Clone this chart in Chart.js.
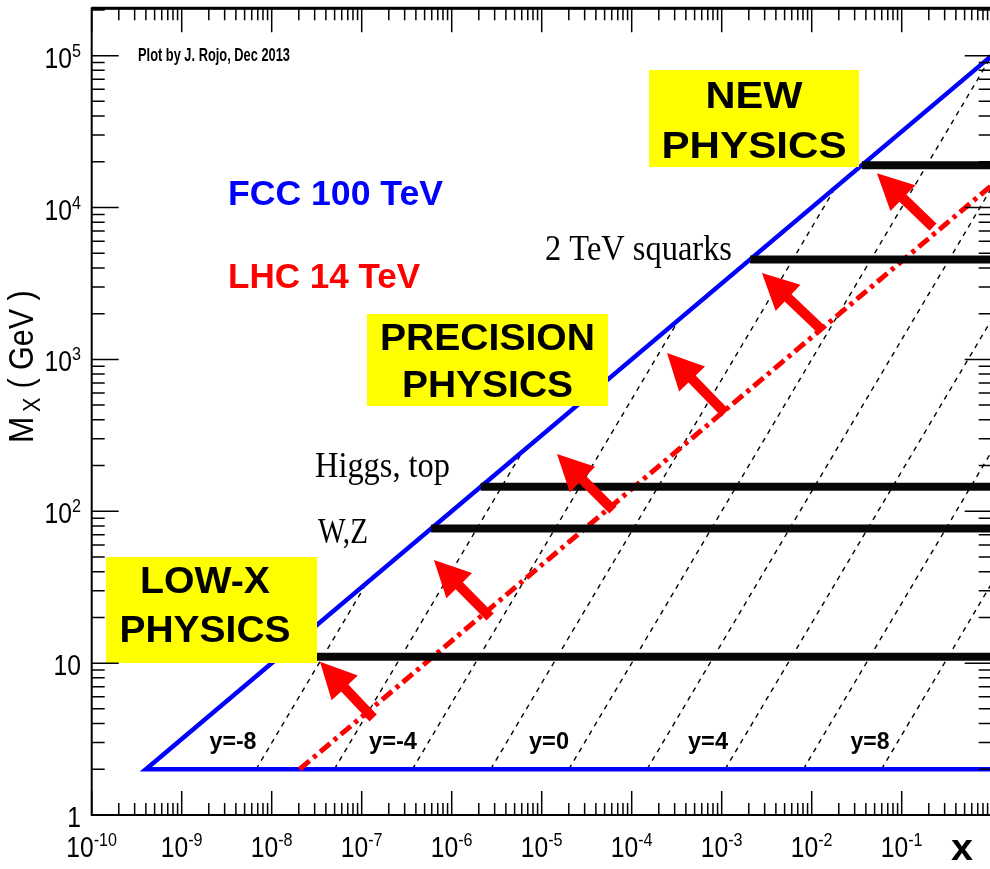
<!DOCTYPE html>
<html lang="en">
<head>
    <meta charset="UTF-8">
    <title>Kinematic coverage: FCC 100 TeV vs LHC 14 TeV</title>
    <script src="https://cdn.jsdelivr.net/npm/chart.js"></script>
    <style>
        html, body { margin: 0; padding: 0; overflow: hidden; background: #fff; }
        #kinChart { display: block; }
    </style>
</head>
<body>
    <canvas id="kinChart" width="1000" height="869"></canvas>
<script>
    // axis ticks
    const xTickExp = ['-10', '-9', '-8', '-7', '-6', '-5', '-4', '-3', '-2', '-1'];
    const yTickBase = ['1', '10', '10', '10', '10', '10'];
    const yTickExp = ['', '', '2', '3', '4', '5'];

    // kinematic limits (x, M_X in GeV)
    const fccX = [1, 4e-10, 1];
    const fccM = [2, 2, 100000];
    const lhcX = [2.04e-8, 1];
    const lhcM = [2, 14000];

    // rapidity lines, all starting at M_X = 2 GeV
    const rapidity = [-8, -6, -4, -2, 0, 2, 4, 6, 8];
    const rapStartX = [6.7e-9, 4.96e-8, 3.66e-7, 2.71e-6, 2.0e-5, 1.48e-4, 1.09e-3, 8.07e-3, 5.96e-2];
    const rapStartM = 2;
    const rapEndX = [1.13e-7, 6.14e-6, 3.35e-4, 1.83e-2, 1, 1, 1, 1, 1];
    const rapEndM = [33.5, 248, 1830, 13500, 100000, 13500, 1830, 248, 33.5];

    // mass bands (new physics, squarks, higgs/top, W/Z, low mass)
    const bandM = [19000, 4550, 145, 77, 11];
    const bandStartX = [0.0361, 2.07e-3, 2.1e-6, 5.9e-7, 1.21e-8];

    // red arrows LHC -> FCC
    const arrowTailX = [1.34e-7, 2.67e-6, 6.2e-5, 1.09e-3, 1.3e-2, 0.223];
    const arrowTailM = [4.35, 20.1, 102, 443, 1560, 7430];
    const arrowHeadX = [3.44e-8, 6.35e-7, 1.48e-5, 2.47e-4, 2.8e-3, 0.0531];
    const arrowHeadM = [10.2, 47.7, 238, 1100, 3700, 16830];

    const pts = (xs, ms) => xs.map((v, i) => ({x: v, y: ms[i]}));

    const datasets = [];
    rapidity.forEach((r, i) => {
        datasets.push({
            label: 'y=' + r,
            data: [{x: rapStartX[i], y: rapStartM}, {x: rapEndX[i], y: rapEndM[i]}],
            borderColor: '#000', borderWidth: 1.4, borderDash: [5, 5], order: 5
        });
    });
    datasets.push({ label: 'FCC 100 TeV', data: pts(fccX, fccM), borderColor: '#0000ff', borderWidth: 4.5, order: 4 });
    datasets.push({ label: 'LHC 14 TeV', data: pts(lhcX, lhcM), borderColor: '#ff0000', borderWidth: 5, borderDash: [13, 5, 4, 5], order: 3 });
    bandM.forEach((m, i) => {
        datasets.push({
            label: 'band ' + m,
            data: [{x: bandStartX[i], y: m}, {x: 1, y: m}],
            borderColor: '#070707', borderWidth: 8, order: 2
        });
    });

    const SANS = '"Liberation Sans", Arial, sans-serif';
    const SERIF = '"Liberation Serif", "Times New Roman", serif';

    // draw text squeezed/stretched to a given width
    function fitText(ctx, str, left, base, font, width, color) {
        ctx.save();
        ctx.font = font;
        ctx.fillStyle = color || '#000';
        ctx.textAlign = 'left';
        ctx.textBaseline = 'alphabetic';
        const w = ctx.measureText(str).width;
        const s = width ? width / w : 1;
        ctx.translate(left, base);
        ctx.scale(s, 1);
        ctx.fillText(str, 0, 0);
        ctx.restore();
    }
    function centerText(ctx, str, cx, base, font, width, color) {
        fitText(ctx, str, cx - width / 2, base, font, width, color);
    }

    function drawArrow(ctx, x0, y0, x1, y1) {
        const len = Math.hypot(x1 - x0, y1 - y0);
        const ux = (x1 - x0) / len, uy = (y1 - y0) / len;
        const nx = -uy, ny = ux;
        const headLen = 36, headW = 18, shaftW = 5;
        const bx = x1 - ux * headLen, by = y1 - uy * headLen;
        ctx.beginPath();
        ctx.moveTo(x0 + nx * shaftW, y0 + ny * shaftW);
        ctx.lineTo(bx + nx * shaftW, by + ny * shaftW);
        ctx.lineTo(bx + nx * headW, by + ny * headW);
        ctx.lineTo(x1, y1);
        ctx.lineTo(bx - nx * headW, by - ny * headW);
        ctx.lineTo(bx - nx * shaftW, by - ny * shaftW);
        ctx.lineTo(x0 - nx * shaftW, y0 - ny * shaftW);
        ctx.closePath();
        ctx.fill();
    }

    const TICK_SCALE = 0.85;
    function tickLabel(ctx, base, exp, anchorX, baseY, align) {
        ctx.save();
        ctx.fillStyle = '#000';
        ctx.textBaseline = 'alphabetic';
        ctx.textAlign = 'left';
        ctx.font = '29px ' + SANS;
        const wb = ctx.measureText(base).width * TICK_SCALE;
        ctx.font = '19px ' + SANS;
        const we = exp ? ctx.measureText(exp).width * TICK_SCALE : 0;
        const total = wb + we;
        const left = align === 'center' ? anchorX - total / 2 : anchorX - total;
        ctx.font = '29px ' + SANS;
        ctx.setTransform(TICK_SCALE, 0, 0, 1, left, baseY);
        ctx.fillText(base, 0, 0);
        if (exp) {
            ctx.font = '19px ' + SANS;
            ctx.setTransform(TICK_SCALE, 0, 0, 1, left + wb, baseY - 11);
            ctx.fillText(exp, 0, 0);
        }
        ctx.restore();
    }

    const overlay = {
        id: 'overlay',
        afterDatasetsDraw(chart) {
            const ctx = chart.ctx;
            const xs = chart.scales.x, ys = chart.scales.y;

            ctx.save();
            ctx.fillStyle = '#ff0000';
            arrowTailX.forEach((tx, i) => {
                drawArrow(ctx,
                    xs.getPixelForValue(tx), ys.getPixelForValue(arrowTailM[i]),
                    xs.getPixelForValue(arrowHeadX[i]), ys.getPixelForValue(arrowHeadM[i]));
            });
            ctx.restore();

            // yellow boxes
            ctx.save();
            ctx.fillStyle = '#ffff00';
            ctx.fillRect(649, 70, 210, 97);
            ctx.fillRect(367, 314, 241, 92);
            ctx.fillRect(106, 557, 211, 106);
            ctx.restore();
            const bold37 = 'bold 37px ' + SANS;
            centerText(ctx, 'NEW', 754, 108, bold37, 97);
            centerText(ctx, 'PHYSICS', 754, 158, bold37, 185);
            centerText(ctx, 'PRECISION', 487.5, 350, bold37, 215);
            centerText(ctx, 'PHYSICS', 487.5, 397, bold37, 171);
            centerText(ctx, 'LOW-X', 205, 593, bold37, 130);
            centerText(ctx, 'PHYSICS', 205, 642, bold37, 171);

            fitText(ctx, 'Plot by J. Rojo, Dec 2013', 138, 61, 'bold 18px ' + SANS, 152);
            fitText(ctx, 'FCC 100 TeV', 228, 205, 'bold 35px ' + SANS, 215, '#0000ff');
            fitText(ctx, 'LHC 14 TeV', 228, 288, 'bold 35px ' + SANS, 192, '#ff0000');
            fitText(ctx, '2 TeV squarks', 545, 260, '36px ' + SERIF, 187);
            fitText(ctx, 'Higgs, top', 315, 477, '36px ' + SERIF, 135);
            fitText(ctx, 'W,Z', 318, 543, '36px ' + SERIF, 50);

            const rapLabelX = [233, 393, 549, 708, 870];
            const rapLabelW = [47, 48, 40, 40, 39];
            ['y=-8', 'y=-4', 'y=0', 'y=4', 'y=8'].forEach((t, i) => {
                centerText(ctx, t, rapLabelX[i], 749, 'bold 24px ' + SANS, rapLabelW[i]);
            });
        },
        afterDraw(chart) {
            const ctx = chart.ctx;
            const xs = chart.scales.x, ys = chart.scales.y;
            const a = chart.chartArea;
            ctx.save();
            ctx.strokeStyle = '#000';

            // ticks
            ctx.lineWidth = 1.5;
            ctx.beginPath();
            for (let e = -10; e <= 0; e++) {
                for (let m = 1; m <= 9; m++) {
                    if (e === 0 && m > 1) break;
                    const px = xs.getPixelForValue(m * Math.pow(10, e));
                    const len = m === 1 ? 24 : 12;
                    ctx.moveTo(px, a.bottom); ctx.lineTo(px, a.bottom - len);
                    ctx.moveTo(px, a.top); ctx.lineTo(px, a.top + len);
                }
            }
            for (let e = 0; e <= 5; e++) {
                for (let m = 1; m <= 9; m++) {
                    const v = m * Math.pow(10, e);
                    if (v > ys.max) break;
                    const py = ys.getPixelForValue(v);
                    const len = m === 1 ? 27 : 13;
                    ctx.moveTo(a.left, py); ctx.lineTo(a.left + len, py);
                    ctx.moveTo(a.right, py); ctx.lineTo(a.right - len, py);
                }
            }
            ctx.stroke();

            // frame
            ctx.lineWidth = 2;
            ctx.strokeRect(a.left, a.top, a.right - a.left, a.bottom - a.top);
            ctx.lineWidth = 3;
            ctx.beginPath();
            ctx.moveTo(a.left, a.top); ctx.lineTo(a.right, a.top);
            ctx.stroke();
            ctx.restore();

            // tick labels
            xTickExp.forEach((ex, i) => {
                tickLabel(ctx, '10', ex, xs.getPixelForValue(Math.pow(10, -10 + i)), 857, 'center');
            });
            yTickBase.forEach((b, i) => {
                const py = ys.getPixelForValue(Math.pow(10, i));
                tickLabel(ctx, b, yTickExp[i], 81, py + 12, 'right');
            });

            // axis titles
            fitText(ctx, 'x', 951, 860, 'bold 36px ' + SANS, 22);

            ctx.save();
            ctx.translate(33, 443);
            ctx.rotate(-Math.PI / 2);
            ctx.fillStyle = '#000';
            ctx.textBaseline = 'alphabetic';
            ctx.font = '35px ' + SANS;
            ctx.save(); ctx.scale(0.9, 1); ctx.fillText('M', 0, 0); ctx.restore();
            ctx.font = '24px ' + SANS;
            ctx.save(); ctx.translate(31, 7); ctx.scale(0.9, 1); ctx.fillText('X', 0, 0); ctx.restore();
            ctx.font = '35px ' + SANS;
            ctx.save(); ctx.translate(46, 0); ctx.scale(0.87, 1); ctx.fillText(' ( GeV )', 0, 0); ctx.restore();
            ctx.restore();
        }
    };

    const config = {
        type: 'line',
        data: { datasets: datasets },
        options: {
            responsive: false,
            animation: false,
            devicePixelRatio: 1,
            layout: { padding: { left: 91.7, right: 8.3, top: 8.3, bottom: 54 } },
            scales: {
                x: { type: 'logarithmic', min: 1e-10, max: 1, display: false },
                y: { type: 'logarithmic', min: 1, max: 2.05e5, display: false }
            },
            elements: { point: { radius: 0 }, line: { tension: 0, fill: false } },
            plugins: { legend: { display: false }, tooltip: { enabled: false } }
        },
        plugins: [overlay]
    };

    const ctx = document.getElementById('kinChart').getContext('2d');
    new Chart(ctx, config);
</script>
</body>
</html>
